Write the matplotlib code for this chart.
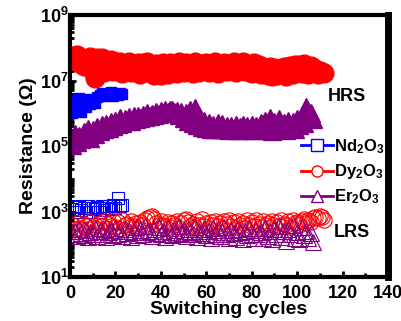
import numpy as np
import matplotlib
matplotlib.use("Agg")
import matplotlib.pyplot as plt
from matplotlib.lines import Line2D
from matplotlib.ticker import LogLocator, MultipleLocator, NullFormatter

plt.rcParams['font.family'] = ['Liberation Sans', 'DejaVu Sans']
plt.rcParams['font.weight'] = 'bold'
plt.rcParams['mathtext.fontset'] = 'custom'
plt.rcParams['mathtext.rm'] = 'Liberation Sans:bold'
plt.rcParams['mathtext.bf'] = 'Liberation Sans:bold'
plt.rcParams['mathtext.default'] = 'bf'

# HRS / LRS resistance per switching cycle (ohm)
nd_hrs = [1.0e6, 2.5e6, 1.3e6, 3.0e6, 1.1e6, 2.2e6, 1.6e6, 2.8e6, 1.9e6, 2.6e6,
          2.0e6, 3.2e6, 3.6e6, 4.2e6, 3.3e6, 4.0e6, 3.5e6, 4.4e6, 3.4e6, 4.0e6,
          3.6e6, 4.3e6, 3.8e6]
nd_lrs = [1.2e3, 1.5e3, 1.0e3, 1.4e3, 1.1e3, 1.3e3, 0.95e3, 1.5e3, 1.0e3, 1.3e3,
          1.2e3, 1.4e3, 1.0e3, 1.5e3, 1.1e3, 1.3e3, 1.5e3, 1.2e3, 1.6e3, 1.3e3,
          2.5e3, 1.5e3, 1.6e3]

dy_hrs = [5.5e7, 4.2e7, 6.0e7, 3.5e7, 5.0e7, 2.8e7, 4.5e7, 3.0e7, 5.2e7, 2.0e7,
          1.2e7, 4.8e7, 2.5e7, 5.0e7, 1.8e7, 3.5e7, 2.2e7, 4.2e7, 1.9e7, 3.6e7,
          2.4e7, 3.8e7, 1.7e7, 3.2e7, 2.6e7, 3.6e7, 1.8e7, 3.0e7, 2.2e7, 3.5e7,
          1.6e7, 3.4e7, 2.5e7, 3.6e7, 1.9e7, 3.0e7, 1.5e7, 3.3e7, 2.1e7, 1.5e7,
          3.4e7, 2.3e7, 1.6e7, 3.5e7, 2.0e7, 3.2e7, 1.7e7, 3.6e7, 2.4e7, 1.8e7,
          3.5e7, 2.2e7, 3.0e7, 1.7e7, 3.6e7, 2.5e7, 1.8e7, 3.3e7, 2.1e7, 3.5e7,
          1.8e7, 3.0e7, 2.4e7, 3.6e7, 1.7e7, 3.2e7, 2.2e7, 3.5e7, 1.9e7, 3.0e7,
          2.5e7, 3.6e7, 1.8e7, 3.3e7, 2.3e7, 3.7e7, 1.9e7, 3.2e7, 2.6e7, 1.7e7,
          3.4e7, 2.2e7, 3.0e7, 1.6e7, 2.6e7, 2.0e7, 1.5e7, 2.6e7, 1.4e7, 2.4e7,
          1.5e7, 2.3e7, 1.8e7, 2.5e7, 1.4e7, 2.2e7, 2.7e7, 1.6e7, 2.9e7, 2.0e7,
          3.0e7, 1.7e7, 3.3e7, 2.4e7, 1.6e7, 2.8e7, 1.9e7, 2.2e7, 1.6e7, 2.0e7,
          1.8e7, 1.7e7]
dy_lrs = [380, 300, 450, 320, 280, 420, 350, 300, 480, 330,
          400, 290, 450, 360, 520, 310, 430, 370, 500, 340,
          470, 300, 550, 380, 420, 330, 520, 360, 450, 310,
          480, 400, 560, 620, 700, 750, 600, 450, 380, 520,
          400, 350, 480, 330, 460, 380, 520, 310, 450, 560,
          600, 480, 350, 430, 330, 500, 400, 580, 360, 450,
          320, 480, 380, 530, 350, 450, 310, 500, 420, 560,
          360, 470, 330, 520, 400, 450, 310, 550, 380, 480,
          350, 560, 420, 330, 500, 380, 460, 340, 520, 400,
          470, 350, 540, 420, 380, 500, 330, 560, 440, 480,
          380, 520, 600, 450, 550, 480, 650, 700, 620, 750,
          680, 550]

er_hrs = [1.1e5, 2.4e5, 1.3e5, 2.0e5, 1.6e5, 2.6e5, 1.9e5, 3.2e5, 1.8e5, 3.0e5,
          2.4e5, 3.8e5, 2.8e5, 4.5e5, 3.3e5, 4.8e5, 3.6e5, 5.5e5, 4.2e5, 6.0e5,
          4.8e5, 7.0e5, 5.2e5, 6.8e5, 5.6e5, 7.5e5, 6.0e5, 8.0e5, 6.5e5, 8.5e5,
          7.0e5, 9.0e5, 7.8e5, 1.0e6, 8.2e5, 9.5e5, 8.8e5, 1.1e6, 9.5e5, 1.2e6,
          1.0e6, 1.3e6, 1.1e6, 1.25e6, 1.3e6, 1.1e6, 1.2e6, 9.0e5, 1.1e6, 7.0e5,
          1.0e6, 6.0e5, 1.3e6, 5.0e5, 1.4e6, 4.5e5, 8.0e5, 3.8e5, 6.0e5, 3.5e5,
          5.0e5, 3.2e5, 4.5e5, 3.4e5, 5.0e5, 3.2e5, 4.6e5, 3.3e5, 4.2e5, 3.1e5,
          4.0e5, 3.3e5, 4.5e5, 3.0e5, 3.8e5, 4.4e5, 3.1e5, 4.0e5, 3.2e5, 4.3e5,
          3.0e5, 4.0e5, 3.4e5, 5.0e5, 3.0e5, 6.0e5, 3.6e5, 7.0e5, 2.9e5, 5.5e5,
          3.2e5, 6.5e5, 3.5e5, 5.0e5, 3.0e5, 6.0e5, 4.0e5, 5.5e5, 3.3e5, 6.5e5,
          4.5e5, 8.0e5, 5.0e5, 1.6e6, 7.0e5, 1.0e6, 6.5e5]
er_lrs = [200, 260, 180, 300, 220, 190, 280, 170, 240, 200,
          310, 180, 250, 210, 290, 170, 230, 270, 190, 320,
          200, 250, 180, 300, 220, 260, 170, 240, 330, 190,
          280, 210, 350, 230, 260, 180, 300, 220, 340, 200,
          250, 170, 310, 230, 190, 280, 200, 350, 220, 260,
          180, 300, 240, 200, 330, 170, 260, 220, 290, 190,
          250, 160, 310, 210, 270, 180, 240, 330, 200, 150,
          280, 220, 170, 300, 230, 140, 260, 190, 320, 210,
          150, 270, 200, 240, 160, 310, 180, 250, 140, 290,
          210, 350, 170, 260, 130, 300, 200, 380, 160, 240,
          140, 330, 190, 260, 150, 220, 120]

labels = ['Nd$_2$O$_3$', 'Dy$_2$O$_3$', 'Er$_2$O$_3$']
colors = ['#0000FF', '#FF0000', '#800080']
markers = ['s', 'o', '^']

fig = plt.figure(figsize=(4.02, 3.21), dpi=100)
ax = fig.add_axes([70 / 402, 1 - 277 / 321, 318 / 402, 262 / 321])

series = [(nd_hrs, nd_lrs, 7.5), (dy_hrs, dy_lrs, 13.5), (er_hrs, er_lrs, 13)]
for (hrs, lrs, ms), c, m in zip(series, colors, markers):
    cyc_h = np.arange(1, len(hrs) + 1)
    ax.plot(cyc_h, hrs, linestyle='none', marker=m, ms=ms, color=c, mec=c)
for (hrs, lrs, ms), c, m in zip(series, colors, markers):
    cyc_l = np.arange(1, len(lrs) + 1)
    lms = 8 if m == 's' else 11
    ax.plot(cyc_l, lrs, linestyle='none', marker=m, ms=lms, mfc='none', mec=c, mew=0.8)

ax.set_yscale('log')
ax.set_xlim(0, 140)
ax.set_ylim(1e1, 1e9)
ax.set_yticks([1e1, 1e3, 1e5, 1e7, 1e9])
ax.set_yticklabels(['10$^1$', '10$^3$', '10$^5$', '10$^7$', '10$^9$'])
ax.yaxis.set_minor_locator(LogLocator(base=10, subs=np.arange(1, 10), numticks=20))
ax.yaxis.set_minor_formatter(NullFormatter())
ax.xaxis.set_major_locator(MultipleLocator(20))
ax.xaxis.set_minor_locator(MultipleLocator(10))

ax.tick_params(axis='both', which='major', direction='in', width=2, length=4, labelsize=13)
ax.tick_params(axis='both', which='minor', direction='in', width=2, length=3)
ax.tick_params(axis='y', which='major', pad=1)
ax.tick_params(axis='x', which='major', pad=6)
for side in ['left', 'bottom', 'top']:
    ax.spines[side].set_linewidth(3)
ax.spines['right'].set_linewidth(5)

ax.set_xlabel('Switching cycles', fontsize=14, fontweight='bold', labelpad=-1)
ax.set_ylabel('Resistance (\u03a9)', fontsize=14, fontweight='bold', labelpad=2)

ax.text(0.81, 0.69, 'HRS', transform=ax.transAxes, fontsize=13, fontweight='bold', va='center')
ax.text(0.83, 0.17, 'LRS', transform=ax.transAxes, fontsize=13, fontweight='bold', va='center')

handles = [Line2D([], [], color=c, marker=m, ms=8, mfc='white', mec=c, lw=2, mew=1)
           for c, m in zip(colors, markers)]
ax.legend(handles, labels, loc='upper left', bbox_to_anchor=(0.70, 0.565), frameon=False,
          fontsize=12, handlelength=1.9, handletextpad=0.1, labelspacing=0.38, borderpad=0)

fig.savefig('out.png', dpi=100)
